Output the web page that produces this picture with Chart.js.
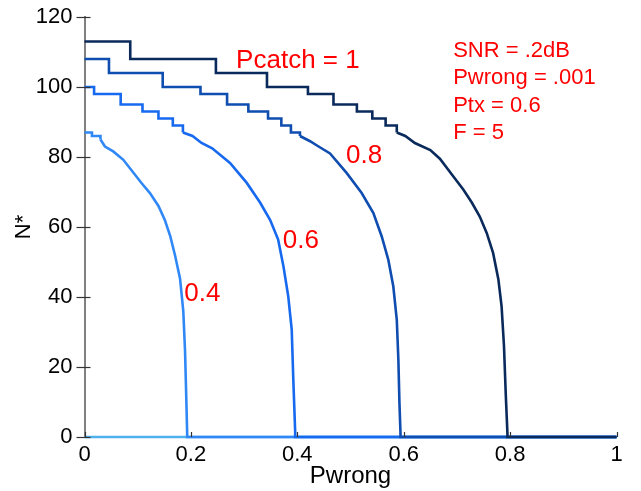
<!DOCTYPE html>
<html>
<head>
<meta charset="utf-8">
<script src="https://cdn.jsdelivr.net/npm/chart.js@4/dist/chart.umd.min.js"></script>
<style>
  html, body { margin: 0; padding: 0; background: #fff; }
  #wrap { width: 641px; height: 491px; }
</style>
</head>
<body>
<div id="wrap"><canvas id="c" width="641" height="491"></canvas></div>
<script>
// N* versus Pwrong, one curve per Pcatch value.
// Each curve: a coarse staircase part [Pwrong, N*] followed by a fine part.
const pc1Steps  = [[0,113],[0.086,108],[0.247,104],[0.343,100],[0.42,98],[0.468,95],[0.512,93],[0.541,91],[0.566,89]];
const pc1Tail   = [[0.587,87],[0.603,86],[0.621,84],[0.65,82],[0.668,79.5],[0.693,74.5],[0.712,70.7],[0.728,67],[0.743,63],[0.756,58.3],[0.768,52.6],[0.778,45],[0.784,37.3],[0.7885,26],[0.792,11.6],[0.795,1],[0.795,0],[1,0]];

const pc08Steps = [[0,108],[0.046,104],[0.147,100],[0.218,98],[0.268,95],[0.308,93],[0.345,91],[0.37,89],[0.388,87]];
const pc08Tail  = [[0.405,86],[0.424,84.5],[0.44,83],[0.4615,81],[0.493,75.4],[0.521,69.7],[0.543,64],[0.5587,57.3],[0.571,50.7],[0.5805,43],[0.587,33.5],[0.59,22],[0.592,9.7],[0.594,1],[0.594,0],[1,0]];

const pc06Steps = [[0,100],[0.018,98],[0.068,95],[0.109,93],[0.139,91],[0.166,89]];
const pc06Tail  = [[0.185,87],[0.203,86],[0.22,84],[0.24,82.5],[0.2735,78.3],[0.305,72.6],[0.33,67],[0.349,62],[0.364,56.4],[0.374,48.7],[0.383,40.2],[0.3895,30.7],[0.3925,16.4],[0.396,1.5],[0.396,0],[1,0]];

const pc04Steps = [[0,87],[0.014,86]];
const pc04Tail  = [[0.03,85],[0.0385,83],[0.054,81.6],[0.073,79.2],[0.092,75.5],[0.1075,72.5],[0.123,69.7],[0.139,66],[0.151,62],[0.161,57.5],[0.17,52],[0.1795,45.4],[0.1857,36],[0.189,24.5],[0.191,13],[0.193,1],[0.193,0],[1,0]];

const pc02Line  = [[0,0],[1,0]];

const xTicks = [0, 0.2, 0.4, 0.6, 0.8, 1];
const yTicks = [0, 20, 40, 60, 80, 100, 120];

// Text placed on the plot, anchored in data units (left edge, baseline).
const curveLabels = [
  { text: 'Pcatch = 1', x: 0.285, y: 105.4, size: 26 },
  { text: '0.8',        x: 0.4915, y: 78.3, size: 26 },
  { text: '0.6',        x: 0.3726, y: 54.0, size: 26 },
  { text: '0.4',        x: 0.1876, y: 38.9, size: 26 }
];
const paramLines = ['SNR = .2dB', 'Pwrong = .001', 'Ptx = 0.6', 'F = 5'];
const paramAnchor = { x: 0.693, y: [108.7, 100.9, 93.0, 85.1] };

const FONT = '"Liberation Sans", Arial, Helvetica, sans-serif';
const toPts = arr => arr.map(p => ({ x: p[0], y: p[1] }));

const curves = [
  { steps: pc1Steps,  tail: pc1Tail,  color: '#0b2a5c' },
  { steps: pc08Steps, tail: pc08Tail, color: '#0f4db0' },
  { steps: pc06Steps, tail: pc06Tail, color: '#1769ef' },
  { steps: pc04Steps, tail: pc04Tail, color: '#3088f7' }
];

const datasets = [];
curves.forEach(c => {
  // horizontal run first, then the drop to the next level
  datasets.push({
    data: toPts(c.steps.concat([c.tail[0]])),
    borderColor: c.color, stepped: 'before'
  });
  datasets.push({
    data: toPts(c.tail),
    borderColor: c.color, stepped: false
  });
});
datasets.push({ data: toPts(pc02Line), borderColor: '#4fb0ee' });
datasets.forEach(d => {
  d.borderWidth = 2.6; d.pointRadius = 0; d.fill = false; d.tension = 0; d.clip = false;
});

// Tick marks crossing the left axis and short upward ticks on the bottom.
const tickMarks = {
  id: 'tickMarks',
  afterDatasetsDraw(chart) {
    const { ctx, scales: { x, y }, chartArea } = chart;
    ctx.save();
    ctx.strokeStyle = '#333';
    ctx.lineWidth = 1.2;
    yTicks.forEach(v => {
      const py = Math.round(y.getPixelForValue(v)) + 0.5;
      ctx.beginPath();
      ctx.moveTo(chartArea.left - 8, py);
      ctx.lineTo(chartArea.left + 6, py);
      ctx.stroke();
    });
    xTicks.forEach(v => {
      const px = Math.round(x.getPixelForValue(v)) + 0.5;
      ctx.beginPath();
      ctx.moveTo(px, chartArea.bottom);
      ctx.lineTo(px, chartArea.bottom - 5);
      ctx.stroke();
    });
    ctx.restore();
  }
};

const textLabels = {
  id: 'textLabels',
  afterDatasetsDraw(chart) {
    const { ctx, scales: { x, y } } = chart;
    ctx.save();
    ctx.fillStyle = '#ff0000';
    ctx.textAlign = 'left';
    ctx.textBaseline = 'alphabetic';
    curveLabels.forEach(l => {
      ctx.font = l.size + 'px ' + FONT;
      ctx.fillText(l.text, x.getPixelForValue(l.x), y.getPixelForValue(l.y));
    });
    ctx.font = '22px ' + FONT;
    paramLines.forEach((t, i) => {
      ctx.fillText(t, x.getPixelForValue(paramAnchor.x), y.getPixelForValue(paramAnchor.y[i]));
    });
    ctx.restore();
  }
};

new Chart(document.getElementById('c'), {
  type: 'line',
  data: { datasets },
  plugins: [tickMarks, textLabels],
  options: {
    responsive: false,
    animation: false,
    events: [],
    layout: { padding: { left: 0, right: 24.5, top: 17, bottom: 0 } },
    plugins: { legend: { display: false }, tooltip: { enabled: false } },
    scales: {
      x: {
        type: 'linear', min: 0, max: 1,
        afterFit: s => { s.height = 54; s.paddingLeft = 0; s.paddingRight = 0; },
        afterBuildTicks: s => { s.ticks = xTicks.map(v => ({ value: v })); },
        grid: { display: false, drawTicks: false },
        border: { display: false },
        ticks: { color: '#000', padding: 5, font: { family: FONT, size: 22 }, maxRotation: 0,
                 callback: v => String(v) },
        title: { display: true, text: 'Pwrong', color: '#000', padding: { top: 0, bottom: 0 },
                 font: { family: FONT, size: 24 } }
      },
      y: {
        type: 'linear', min: 0, max: 120,
        afterFit: s => { s.width = 84.5; s.paddingTop = 0; s.paddingBottom = 0; },
        afterBuildTicks: s => { s.ticks = yTicks.map(v => ({ value: v })); },
        grid: { display: false, drawTicks: false },
        border: { display: true, color: '#808080', width: 2 },
        ticks: { color: '#000', padding: 12, font: { family: FONT, size: 22 },
                 callback: v => String(v) },
        title: { display: true, text: 'N*', color: '#000', padding: { top: 11, bottom: 0 },
                 font: { family: FONT, size: 22 } }
      }
    }
  }
});
</script>
</body>
</html>
